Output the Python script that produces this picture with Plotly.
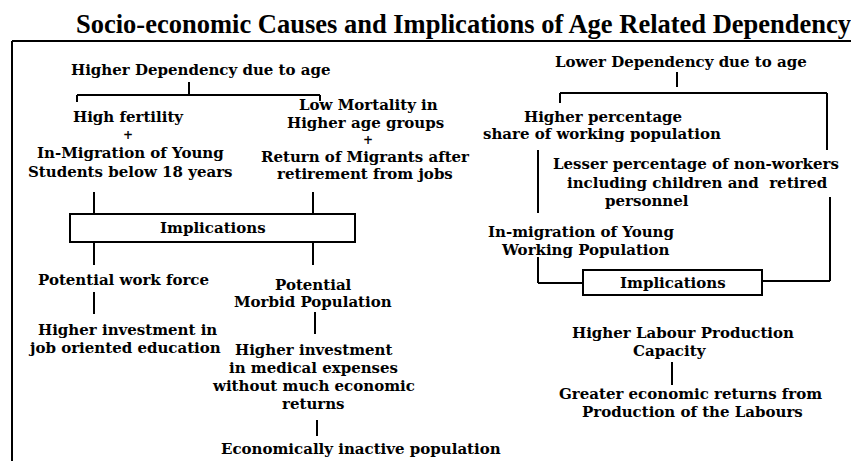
import plotly.graph_objects as go

W, H = 859, 461
OFF = 8  # page body margin compensation

title_text = "Socio-economic Causes and Implications of Age Related Dependency"

# Text lines of the diagram
line_texts = [
    "Higher Dependency due to age",
    "High fertility", "+", "In-Migration of Young", "Students below 18 years",
    "Low Mortality in", "Higher age groups", "+", "Return of Migrants after", "retirement from jobs",
    "Potential work force", "Higher investment in", "job oriented education",
    "Potential", "Morbid Population",
    "Higher investment", "in medical expenses", "without much economic", "returns",
    "Economically inactive population",
    "Lower Dependency due to age",
    "Higher percentage", "share of working population",
    "Lesser percentage of non-workers", "including children and  retired", "personnel",
    "In-migration of Young", "Working Population",
    "Higher Labour Production", "Capacity",
    "Greater economic returns from", "Production of the Labours",
]
line_x = [
    201,
    128, 128, 130, 130,
    368, 365, 368, 365, 365,
    123, 127, 124,
    313, 313,
    313, 313, 313, 313,
    361,
    681,
    603, 602,
    696, 697, 647,
    581, 585,
    683, 670,
    690, 692,
]
line_y = [
    70,
    117, 135, 153, 172,
    105, 123, 140, 157, 174,
    280, 330, 348,
    285, 302,
    350, 368, 386, 404,
    449,
    62,
    117, 134,
    164, 183, 201,
    232, 250,
    333, 351,
    394, 412,
]

box_labels = ["Implications", "Implications"]
box_x0 = [70, 583]
box_x1 = [355, 762]
box_y0 = [214, 270]
box_y1 = [242, 295]

# connector polylines (x list, y list)
connectors = [
    ([12, 12], [41, 470]),            # frame left
    ([12, 870], [41, 41]),            # frame top
    ([189, 189], [82, 95]),
    ([77, 77, 320, 320], [102, 95, 95, 101]),
    ([94, 94], [192, 214]),
    ([313, 313], [192, 214]),
    ([94, 94], [242, 265]),
    ([313, 313], [242, 265]),
    ([94, 94], [292, 314]),
    ([315, 315], [312, 334]),
    ([317, 317], [420, 436]),
    ([677, 677], [72, 87]),
    ([560, 560, 827, 827], [103, 93, 93, 150]),
    ([538, 538], [150, 213]),
    ([830, 830, 762], [197, 281, 281]),
    ([538, 538, 583], [257, 283, 283]),
    ([672, 672], [362, 385]),
]

fig = go.Figure()
fig.add_trace(go.Scatter(x=[OFF, W + OFF], y=[OFF, H + OFF], mode="markers",
                         marker=dict(opacity=0), hoverinfo="skip", showlegend=False))

for xs, ys in connectors:
    for i in range(len(xs) - 1):
        fig.add_shape(type="line", x0=xs[i], y0=ys[i], x1=xs[i + 1], y1=ys[i + 1],
                      xref="x", yref="y", line=dict(color="black", width=2))

for lbl, x0, x1, y0, y1 in zip(box_labels, box_x0, box_x1, box_y0, box_y1):
    fig.add_shape(type="rect", x0=x0, x1=x1, y0=y0, y1=y1, xref="x", yref="y",
                  line=dict(color="black", width=2), fillcolor="white")
    fig.add_annotation(x=(x0 + x1) / 2, y=(y0 + y1) / 2, text="<b>" + lbl + "</b>",
                       showarrow=False, xref="x", yref="y", xanchor="center",
                       yanchor="middle",
                       font=dict(family="DejaVu Serif", size=15, color="black"))

for t, x, y in zip(line_texts, line_x, line_y):
    size = 12 if t == "+" else 15
    fig.add_annotation(x=x, y=y, text="<b>" + t + "</b>", showarrow=False,
                       xref="x", yref="y", xanchor="center", yanchor="middle",
                       font=dict(family="DejaVu Serif", size=size, color="black"))

fig.add_annotation(x=463, y=24, text="<b>" + title_text + "</b>", showarrow=False,
                   xref="x", yref="y", xanchor="center", yanchor="middle",
                   font=dict(family="Liberation Serif", size=26.5, color="black"))

fig.update_xaxes(range=[OFF, W + OFF], visible=False, fixedrange=True)
fig.update_yaxes(range=[H + OFF, OFF], visible=False, fixedrange=True)
fig.update_layout(width=W, height=H, margin=dict(l=0, r=0, t=0, b=0),
                  paper_bgcolor="white", plot_bgcolor="white", showlegend=False)

fig.write_html("out.html")
